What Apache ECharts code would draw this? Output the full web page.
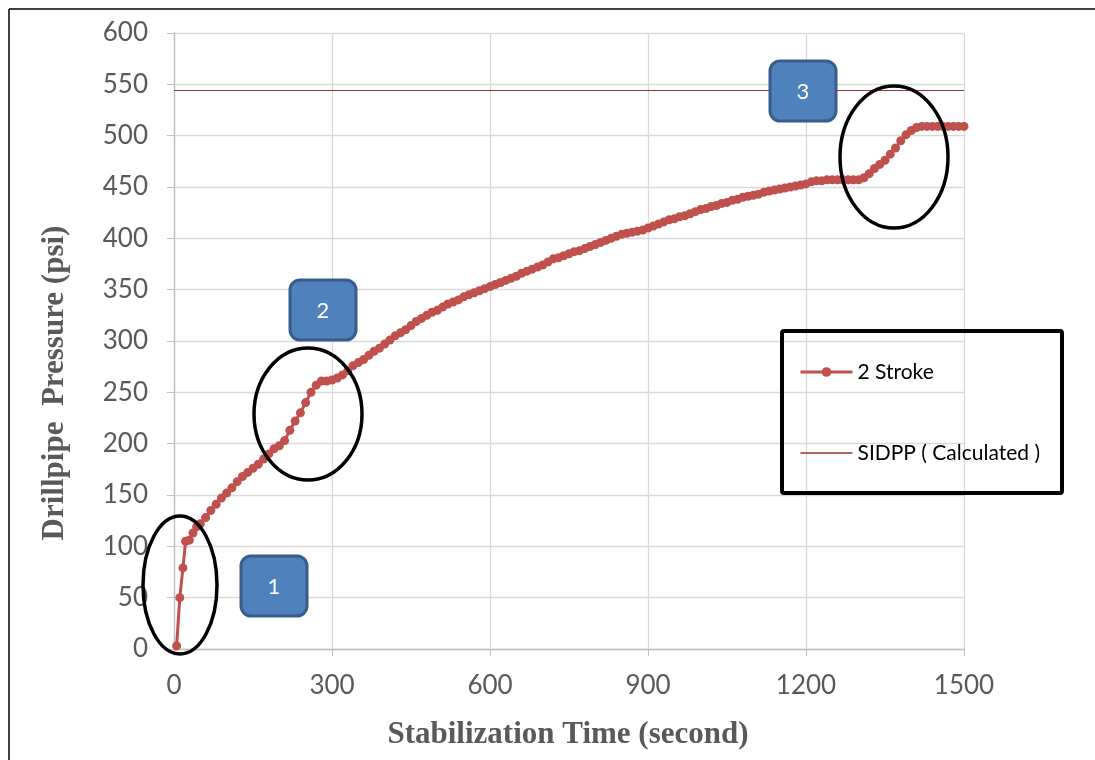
<!DOCTYPE html>
<html>
<head>
<meta charset="utf-8">
<script src="https://cdn.jsdelivr.net/npm/echarts@6/dist/echarts.min.js"></script>
<style>
html,body{margin:0;padding:0;background:#fff;}
#chart{width:1095px;height:760px;}
</style>
</head>
<body>
<div id="chart"></div>
<script>
// ---- Data ----
var timeSec = [5,11,17,22,29,36,43,
50,60,70,80,90,100,110,120,130,140,150,160,170,180,190,200,210,220,230,240,250,260,270,280,290,300,
310,320,330,340,350,360,370,380,390,400,410,420,430,440,450,460,470,480,490,500,
510,520,530,540,550,560,570,580,590,600,610,620,630,640,650,660,670,680,690,700,
710,720,730,740,750,760,770,780,790,800,810,820,830,840,850,860,870,880,890,900,
910,920,930,940,950,960,970,980,990,1000,1010,1020,1030,1040,1050,1060,1070,1080,1090,1100,
1110,1120,1130,1140,1150,1160,1170,1180,1190,1200,1210,1220,1230,1240,1250,1260,1270,1280,1290,1300,
1310,1320,1330,1340,1350,1360,1370,1380,1390,1400,1410,1420,1430,1440,1450,1460,1470,1480,1490,1500];
var pressure2Stroke = [3,50,79,105,106,113,119,
122,128,135,141,147,152,157,163,168,172,176,180,185,190,195,198,203,213,222,230,240,250,257,261,261,262,
264,267,271,276,279,282,286,290,293,297,301,305,308,311,315,319,322,325,328,330,
333,336,338,340,343,345,347,349,351,353,355,357,359,361,363,366,368,370,372,374,
377,380,381,383,385,387,388,390,392,394,396,398,400,402,404,405,406,407,408,410,
412,414,416,418,419,421,422,424,426,428,429,431,432,434,435,437,438,440,441,442,
443,445,446,447,448,449,450,451,452,453,455,456,456,457,457,457,457,457,457,457,
459,463,468,472,476,482,488,495,501,505,508,509,509,509,509,509,509,509,509,509];
var sidppTime = [0, 1500];
var sidppValue = [544, 544];
var xTicks = {min: 0, max: 1500, interval: 300};
var yTicks = {min: 0, max: 600, interval: 50};
var seriesNames = ['2 Stroke', 'SIDPP ( Calculated )'];

var strokeData = timeSec.map(function(t, i){ return [t, pressure2Stroke[i]]; });
var sidppData = sidppTime.map(function(t, i){ return [t, sidppValue[i]]; });

var chart = echarts.init(document.getElementById('chart'));
var axisGray = '#BFBFBF';
var labelGray = '#595959';

function badge(x, y, label){
  return [
    {type:'rect', shape:{x:x, y:y, width:66, height:60, r:10}, z:100,
     style:{fill:'#4F81BD', stroke:'#385D8A', lineWidth:3}},
    {type:'text', x:x+33, y:y+31, z:101,
     style:{text:label, fill:'#fff', font:'22px Lato, sans-serif', align:'center', verticalAlign:'middle'}}
  ];
}
function ring(cx, cy, rx, ry){
  return {type:'ellipse', shape:{cx:cx, cy:cy, rx:rx, ry:ry}, z:99,
          style:{fill:'none', stroke:'#000', lineWidth:3.5}};
}

var graphics = [
  {type:'line', shape:{x1:9, y1:9, x2:1095, y2:9}, style:{stroke:'#000', lineWidth:1.5}},
  {type:'line', shape:{x1:9, y1:9, x2:9, y2:760}, style:{stroke:'#000', lineWidth:1.5}},
  {type:'rect', shape:{x:782, y:331, width:280, height:162, r:2}, z:90,
   style:{fill:'none', stroke:'#000', lineWidth:4}},
  ring(180, 585, 37, 69),
  ring(308, 414, 54, 66),
  ring(894, 157, 54, 71),
  {type:'text', x:568, y:735, style:{text:'Stabilization Time (second)', fill:labelGray,
     font:'bold 31px "Liberation Serif", serif', align:'center', verticalAlign:'middle'}},
  {type:'text', x:55, y:383, rotation:Math.PI/2, style:{text:'Drillpipe  Pressure (psi)', fill:labelGray,
     font:'bold 31px "Liberation Serif", serif', align:'center', verticalAlign:'middle'}}
].concat(badge(241, 556, '1'), badge(290, 280, '2'), badge(770, 61, '3'));

chart.setOption({
  animation: false,
  backgroundColor: '#fff',
  grid: {left: 174, right: 131, top: 33, bottom: 111, containLabel: false},
  legend: {
    data: [
      {name: seriesNames[0], lineStyle: {width: 3}},
      {name: seriesNames[1], icon: 'path://M0,0L52,0L52,1.3L0,1.3Z', itemStyle: {color: '#943634'}}
    ],
    orient: 'vertical',
    left: 794, top: 356,
    itemWidth: 52, itemHeight: 12,
    itemGap: 59,
    textStyle: {fontSize: 21, fontFamily: 'Lato, sans-serif', color: '#000', lineHeight: 22}
  },
  xAxis: {
    type: 'value', min: xTicks.min, max: xTicks.max, interval: xTicks.interval,
    axisLine: {show: true, lineStyle: {color: axisGray, width: 1.3}},
    axisTick: {show: true, length: 7, lineStyle: {color: axisGray}},
    splitLine: {show: true, lineStyle: {color: '#D9D9D9', width: 1.3}},
    axisLabel: {fontSize: 26, fontFamily: 'Lato, sans-serif', color: labelGray, margin: 24,
                formatter: function(v){ return String(v); }}
  },
  yAxis: {
    type: 'value', min: yTicks.min, max: yTicks.max, interval: yTicks.interval,
    axisLine: {show: true, lineStyle: {color: axisGray, width: 1.3}},
    axisTick: {show: true, length: 7, lineStyle: {color: axisGray}},
    splitLine: {show: true, lineStyle: {color: '#D9D9D9', width: 1.3}},
    axisLabel: {fontSize: 26, fontFamily: 'Lato, sans-serif', color: labelGray, margin: 26,
                formatter: function(v){ return String(v); }}
  },
  series: [
    {
      name: seriesNames[0], type: 'line', data: strokeData,
      symbol: 'circle', symbolSize: 9, showAllSymbol: true,
      lineStyle: {color: '#C0504D', width: 3},
      itemStyle: {color: '#C0504D'}, z: 5
    },
    {
      name: seriesNames[1], type: 'line', data: sidppData,
      symbol: 'none', lineStyle: {color: '#943634', width: 1.2},
      itemStyle: {color: '#943634'}, z: 4
    }
  ],
  graphic: graphics
});
</script>
</body>
</html>
